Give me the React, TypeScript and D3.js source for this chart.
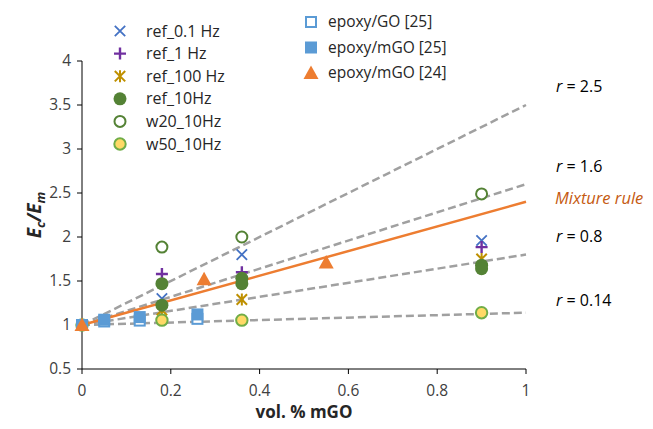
import React from "react";
import * as d3 from "d3";

type Pt = [number, number];

// Measured series (vol. % mGO, Ec/Em)
const ref01Hz: Pt[] = [[0.18, 1.3], [0.36, 1.8], [0.9, 1.96]];
const ref1Hz: Pt[] = [[0.18, 1.58], [0.36, 1.6], [0.9, 1.885]];
const ref100Hz: Pt[] = [[0.18, 1.17], [0.36, 1.29], [0.9, 1.75]];
const ref10Hz: Pt[] = [[0.18, 1.47], [0.18, 1.225], [0.36, 1.53], [0.36, 1.47], [0.9, 1.68], [0.9, 1.64]];
const w20_10Hz: Pt[] = [[0.18, 1.885], [0.36, 2.0], [0.9, 2.49]];
const w50_10Hz: Pt[] = [[0, 1], [0.18, 1.055], [0.36, 1.055], [0.9, 1.14]];
const epoxyGO25: Pt[] = [[0, 1], [0.05, 1.04], [0.13, 1.05], [0.26, 1.07]];
const epoxyMGO25: Pt[] = [[0, 1], [0.05, 1.06], [0.13, 1.09], [0.26, 1.12]];
const epoxyMGO24: Pt[] = [[0, 1], [0.275, 1.52], [0.55, 1.71]];

// Model lines Ec/Em = 1 + r * phi (phi in vol. %)
const rValues = [2.5, 1.6, 0.8, 0.14];
const rLabels = ["2.5", "1.6", "0.8", "0.14"];
const mixtureSlope = 1.4;

const xTicks = [0, 0.2, 0.4, 0.6, 0.8, 1];
const yTicks = [0.5, 1, 1.5, 2, 2.5, 3, 3.5, 4];

const FONT = "'Open Sans', 'Liberation Sans', sans-serif";

const x = d3.scaleLinear().domain([0, 1]).range([82, 526]);
const y = d3.scaleLinear().domain([0.5, 4]).range([369, 61]);

type Kind = "x" | "plus" | "star" | "dot" | "ring" | "yellow" | "sqOpen" | "sq" | "tri";

function Marker({ kind, cx, cy }: { kind: Kind; cx: number; cy: number }) {
  const s = 5.2;
  switch (kind) {
    case "x":
      return (
        <path d={`M${cx - s},${cy - s}L${cx + s},${cy + s}M${cx - s},${cy + s}L${cx + s},${cy - s}`}
          stroke="#4472C4" strokeWidth={1.8} fill="none" />
      );
    case "plus":
      return (
        <path d={`M${cx - 6},${cy}L${cx + 6},${cy}M${cx},${cy - 6}L${cx},${cy + 6}`}
          stroke="#7030A0" strokeWidth={2.4} fill="none" />
      );
    case "star":
      return (
        <path d={`M${cx - s},${cy - s}L${cx + s},${cy + s}M${cx - s},${cy + s}L${cx + s},${cy - s}M${cx},${cy - 6}L${cx},${cy + 6}`}
          stroke="#BF9000" strokeWidth={2} fill="none" />
      );
    case "dot":
      return <circle cx={cx} cy={cy} r={6.5} fill="#548235" />;
    case "ring":
      return <circle cx={cx} cy={cy} r={5.5} fill="#FFFFFF" stroke="#548235" strokeWidth={2} />;
    case "yellow":
      return <circle cx={cx} cy={cy} r={5.7} fill="#FFD966" stroke="#70AD47" strokeWidth={2} />;
    case "sqOpen":
      return <rect x={cx - 5} y={cy - 5} width={10} height={10} fill="#FFFFFF" stroke="#5B9BD5" strokeWidth={2} />;
    case "sq":
      return <rect x={cx - 6} y={cy - 6} width={12} height={12} fill="#5B9BD5" />;
    case "tri":
      return <path d={`M${cx},${cy - 7.5}L${cx + 7.5},${cy + 6}L${cx - 7.5},${cy + 6}Z`} fill="#ED7D31" />;
  }
}

const series: { name: string; kind: Kind; data: Pt[] }[] = [
  { name: "ref_0.1 Hz", kind: "x", data: ref01Hz },
  { name: "ref_1 Hz", kind: "plus", data: ref1Hz },
  { name: "ref_100 Hz", kind: "star", data: ref100Hz },
  { name: "ref_10Hz", kind: "dot", data: ref10Hz },
  { name: "w20_10Hz", kind: "ring", data: w20_10Hz },
  { name: "w50_10Hz", kind: "yellow", data: w50_10Hz },
  { name: "epoxy/GO [25]", kind: "sqOpen", data: epoxyGO25 },
  { name: "epoxy/mGO [25]", kind: "sq", data: epoxyMGO25 },
  { name: "epoxy/mGO [24]", kind: "tri", data: epoxyMGO24 },
];

export default function App() {
  const line = d3.line<Pt>().x((d) => x(d[0])).y((d) => y(d[1]));
  const rLabelY = [86, 166, 236, 300];

  return (
    <svg width={653} height={429} style={{ position: "absolute", left: 0, top: 0, background: "#fff" }}
      fontFamily={FONT}>
      {/* axes */}
      <line x1={x(0)} x2={x(0)} y1={y(0.5)} y2={y(4)} stroke="#000" strokeWidth={1} />
      <line x1={x(0)} x2={x(1)} y1={y(0.5)} y2={y(0.5)} stroke="#000" strokeWidth={1} />
      {yTicks.map((t) => (
        <g key={"y" + t}>
          <line x1={x(0) - 5} x2={x(0)} y1={y(t)} y2={y(t)} stroke="#000" />
          <text x={x(0) - 11} y={y(t)} dy="0.35em" textAnchor="end" fontSize={15.5} fill="#404040">{t}</text>
        </g>
      ))}
      {xTicks.map((t) => (
        <g key={"x" + t}>
          <line x1={x(t)} x2={x(t)} y1={y(0.5)} y2={y(0.5) + 5} stroke="#000" />
          <text x={x(t)} y={y(0.5) + 22} dy="0.35em" textAnchor="middle" fontSize={15.5} fill="#404040">{t}</text>
        </g>
      ))}

      {/* model lines */}
      {rValues.map((r) => (
        <path key={"r" + r} d={line([[0, 1], [1, 1 + r]]) || ""} stroke="#A0A0A0" strokeWidth={2.5}
          strokeDasharray="8,4" fill="none" />
      ))}
      <path d={line([[0, 1], [1, 1 + mixtureSlope]]) || ""} stroke="#ED7D31" strokeWidth={2.5} fill="none" />

      {/* data markers */}
      {series.map((s) => (
        <g key={s.name}>
          {s.data.map((d, i) => (
            <Marker key={i} kind={s.kind} cx={x(d[0])} cy={y(d[1])} />
          ))}
        </g>
      ))}

      {/* line labels */}
      {rLabels.map((lab, i) => (
        <text key={lab} x={556} y={rLabelY[i]} dy="0.35em" fontSize={16} fill="#000">
          <tspan fontStyle="italic">r</tspan>
          <tspan> = {lab}</tspan>
        </text>
      ))}
      <text x={555} y={198} dy="0.35em" fontSize={16.5} fontStyle="italic" fill="#C55A11">Mixture rule</text>

      {/* legends */}
      {series.slice(0, 6).map((s, i) => (
        <g key={"l" + s.name}>
          <Marker kind={s.kind} cx={120} cy={31 + i * 22.6} />
          <text x={146} y={31 + i * 22.6} dy="0.35em" fontSize={16} fill="#262626">{s.name}</text>
        </g>
      ))}
      {series.slice(6).map((s, i) => (
        <g key={"l" + s.name}>
          <Marker kind={s.kind} cx={311} cy={22 + i * 25.5} />
          <text x={328} y={22 + i * 25.5} dy="0.35em" fontSize={15.5} fill="#262626">{s.name}</text>
        </g>
      ))}

      {/* axis titles */}
      <text x={304} y={412} dy="0.35em" textAnchor="middle" fontSize={17} fontWeight="bold" fill="#262626">
        vol. % mGO
      </text>
      <text transform={`translate(41,${(y(0.5) + y(4)) / 2}) rotate(-90)`} textAnchor="middle"
        fontSize={19} fontWeight="bold" fontStyle="italic" fill="#262626">
        <tspan>E</tspan>
        <tspan fontSize={13} dy={4}>c</tspan>
        <tspan dy={-4}>/E</tspan>
        <tspan fontSize={13} dy={4}>m</tspan>
      </text>
    </svg>
  );
}
